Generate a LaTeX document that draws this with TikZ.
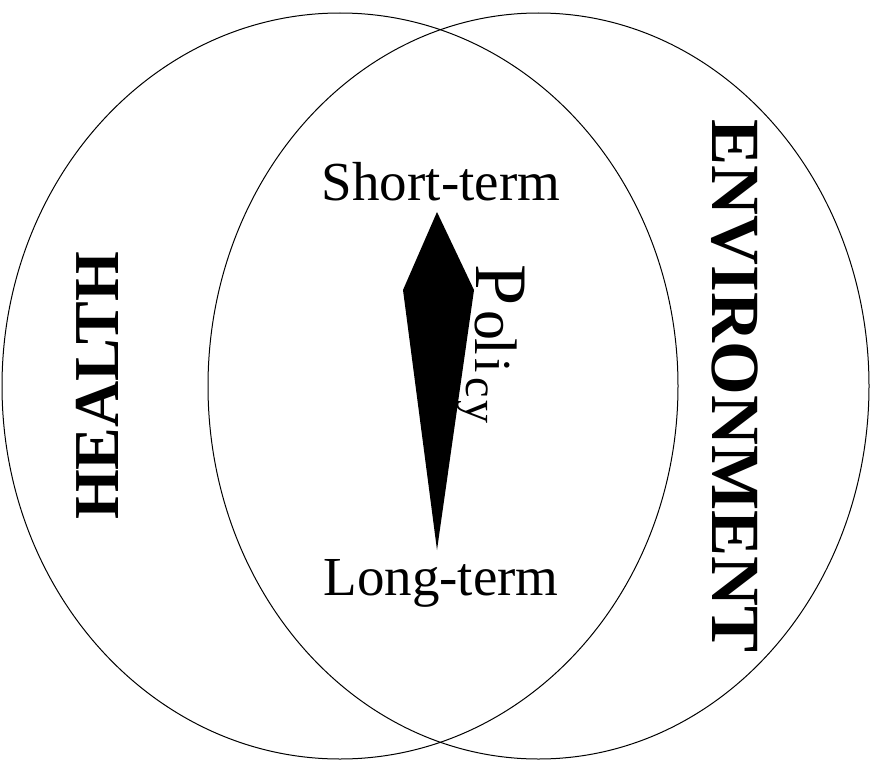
\documentclass[tikz,border=0pt]{standalone}
\usepackage{fontspec}
\setmainfont{Liberation Serif}

\begin{document}
\begin{tikzpicture}[x=1pt,y=-1pt,line width=1pt]

	\useasboundingbox (0,0) rectangle (870,760);

	\coordinate (H) at (340,386);
	\coordinate (E) at (538.5,386);

	\draw (H) ellipse [x radius=338pt, y radius=373pt];
	\draw (E) ellipse [x radius=330.5pt, y radius=373pt];

	\node[rotate=90, font=\fontsize{64}{64}\selectfont\bfseries] (health) at (97,386) {HEALTH};
	\node[rotate=-90, font=\fontsize{69}{69}\selectfont\bfseries] (env) at (735,386) {ENVIRONMENT};

	\node[anchor=base, font=\fontsize{55}{55}\selectfont] (short) at (441,200) {Short-term};
	\node[anchor=base, font=\fontsize{55}{55}\selectfont] (long) at (441,595) {Long-term};

	\coordinate (T) at (437,212);
	\coordinate (L) at (403,290);
	\coordinate (R) at (474,290);
	\coordinate (B) at (437,550);

	\fill (T) -- (L) -- (B) -- (R) -- cycle;

	\foreach \ch/\y/\bx/\sz [count=\i] in {P/285/476/74, o/325/475/60, l/347/475/60, i/366/475/52, c/388/466/46, y/412/466/46}
		\node[rotate=-90, anchor=base, inner sep=0pt, font=\fontsize{\sz}{\sz}\selectfont] (pol\i) at (\bx,\y) {\ch};

\end{tikzpicture}
\end{document}
